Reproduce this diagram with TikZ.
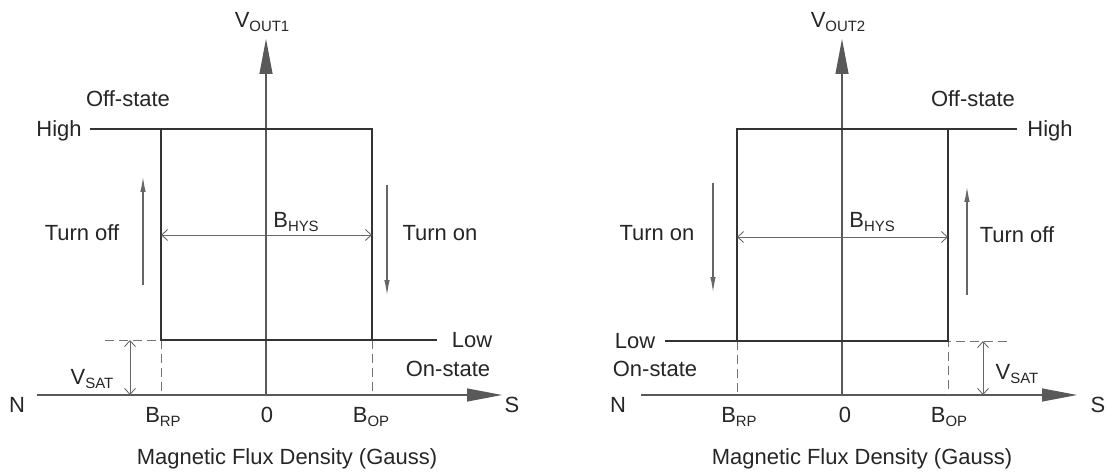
\documentclass[tikz,border=0pt]{standalone}
\usepackage{fontspec}
\setmainfont{Liberation Sans}
\usetikzlibrary{arrows.meta}
\newcommand{\lowsub}[1]{\raisebox{-0.3ex}{\fontsize{8.5}{9}\selectfont #1}}

\begin{document}
\begin{tikzpicture}[x=0.02cm, y=-0.02cm,
  lbl/.style={font=\fontsize{12.5}{14}\selectfont, text=black!85, inner sep=0pt, text height=9pt, text depth=0pt},
  axis/.style={draw=black!65, line width=0.6pt, -{Triangle[length=0.7cm, width=0.26cm]}},
  loop/.style={draw=black!80, line width=1.3pt},
  guide/.style={draw=black!55, line width=0.5pt, dash pattern=on 5pt off 3pt},
  dim/.style={draw=black!60, line width=0.5pt, {Straight Barb[length=0.12cm, width=0.22cm]}-{Straight Barb[length=0.12cm, width=0.22cm]}},
  turn/.style={draw=black!60, line width=0.6pt, -{Latex[length=0.3cm, width=0.11cm]}}
]
\useasboundingbox[fill=white] (0,0) rectangle (1108,472);

% VOUT1
\coordinate (o1) at (266,395);
\coordinate (yt1) at (266,39);
\coordinate (xs1) at (37,395);
\coordinate (xt1) at (502,395);
\coordinate (hi1) at (90,129);
\coordinate (tl1) at (161,129);
\coordinate (tr1) at (372,129);
\coordinate (bl1) at (161,340);
\coordinate (br1) at (372,340);
\coordinate (lo1) at (437,340);
\coordinate (dl1) at (105,340);
\coordinate (rp1) at (161,395);
\coordinate (op1) at (372,395);
\coordinate (vsa1) at (130,340);
\coordinate (vsb1) at (130,395);
\coordinate (hya1) at (161,235);
\coordinate (hyb1) at (372,235);
\coordinate (tfa1) at (143,285);
\coordinate (tfb1) at (143,177);
\coordinate (tna1) at (387,185);
\coordinate (tnb1) at (387,295);

\draw[axis] (xs1) -- (xt1);
\draw[axis] (o1) -- (yt1);
\draw[guide] (dl1) -- (bl1) -- (rp1);
\draw[guide] (br1) -- (op1);
\draw[loop] (hi1) -- (tr1) -- (br1);
\draw[loop] (lo1) -- (bl1) -- (tl1);
\draw[dim] (vsa1) -- (vsb1);
\draw[dim] (hya1) -- (hyb1);
\draw[turn] (tfa1) -- (tfb1);
\draw[turn] (tna1) -- (tnb1);

\node[lbl] (vout1) at (262,20) {V\lowsub{OUT1}};
\node[lbl] (off1) at (128,99) {Off-state};
\node[lbl] (high1) at (59,129) {High};
\node[lbl] (low1) at (472,340) {Low};
\node[lbl] (on1) at (448,369) {On-state};
\node[lbl] (n1) at (17,405) {N};
\node[lbl] (s1) at (512,405) {S};
\node[lbl] (brp1) at (163,415) {B\lowsub{RP}};
\node[lbl] (zero1) at (267,415) {0};
\node[lbl] (bop1) at (371,415) {B\lowsub{OP}};
\node[lbl] (vsat1) at (92,377) {V\lowsub{SAT}};
\node[lbl, anchor=west] (bhys1) at (273,220) {B\lowsub{HYS}};
\node[lbl] (toff1) at (82,233) {Turn off};
\node[lbl] (ton1) at (440,233) {Turn on};
\node[lbl] (flux1) at (287,457) {Magnetic Flux Density (Gauss)};

% VOUT2
\coordinate (o2) at (842,395);
\coordinate (yt2) at (842,39);
\coordinate (xs2) at (641,395);
\coordinate (xt2) at (1077,395);
\coordinate (hi2) at (1017,129);
\coordinate (tl2) at (737,129);
\coordinate (tr2) at (948,129);
\coordinate (bl2) at (737,341);
\coordinate (br2) at (948,341);
\coordinate (lo2) at (665,341);
\coordinate (dr2) at (1007,341);
\coordinate (rp2) at (737,395);
\coordinate (op2) at (948,395);
\coordinate (vsa2) at (983,341);
\coordinate (vsb2) at (983,395);
\coordinate (hya2) at (737,237);
\coordinate (hyb2) at (948,237);
\coordinate (tna2) at (713,183);
\coordinate (tnb2) at (713,292);
\coordinate (tfa2) at (967,295);
\coordinate (tfb2) at (967,187);

\draw[axis] (xs2) -- (xt2);
\draw[axis] (o2) -- (yt2);
\draw[guide] (dr2) -- (br2) -- (op2);
\draw[guide] (bl2) -- (rp2);
\draw[loop] (lo2) -- (br2) -- (tr2);
\draw[loop] (hi2) -- (tl2) -- (bl2);
\draw[dim] (vsa2) -- (vsb2);
\draw[dim] (hya2) -- (hyb2);
\draw[turn] (tna2) -- (tnb2);
\draw[turn] (tfa2) -- (tfb2);

\node[lbl] (vout2) at (838,20) {V\lowsub{OUT2}};
\node[lbl] (off2) at (973,99) {Off-state};
\node[lbl] (high2) at (1050,129) {High};
\node[lbl] (low2) at (635,341) {Low};
\node[lbl] (on2) at (655,369) {On-state};
\node[lbl] (n2) at (618,405) {N};
\node[lbl] (s2) at (1098,405) {S};
\node[lbl] (brp2) at (739,415) {B\lowsub{RP}};
\node[lbl] (zero2) at (845,415) {0};
\node[lbl] (bop2) at (949,415) {B\lowsub{OP}};
\node[lbl] (vsat2) at (1017,372) {V\lowsub{SAT}};
\node[lbl, anchor=west] (bhys2) at (849,220) {B\lowsub{HYS}};
\node[lbl] (ton2) at (657,233) {Turn on};
\node[lbl] (toff2) at (1017,235) {Turn off};
\node[lbl] (flux2) at (862,457) {Magnetic Flux Density (Gauss)};
\end{tikzpicture}
\end{document}
